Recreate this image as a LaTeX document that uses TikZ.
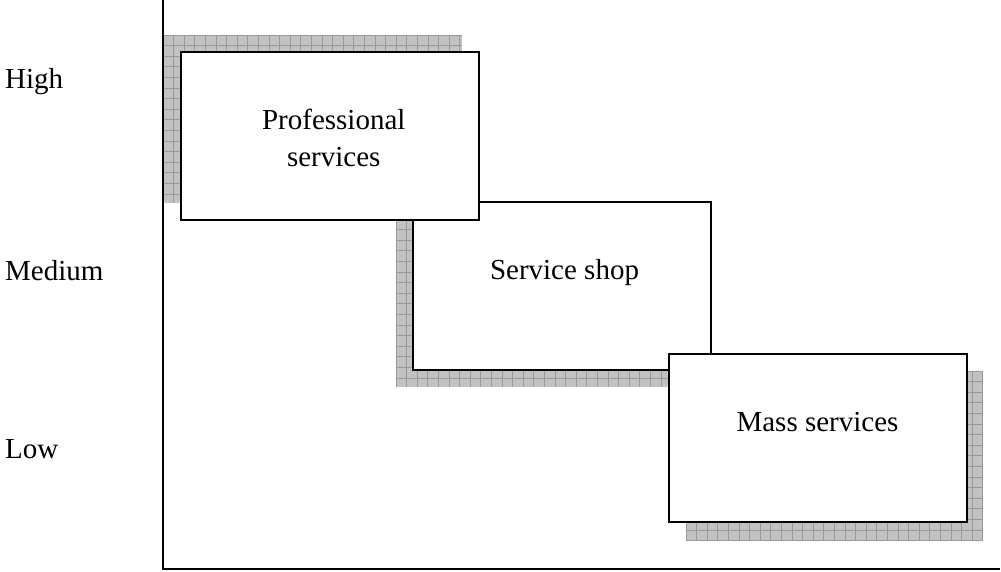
\documentclass[tikz,border=0pt]{standalone}
\usepackage{fontspec}
\setmainfont{Liberation Serif}
\usetikzlibrary{positioning}
\definecolor{shadegray}{rgb}{0.76,0.76,0.76}
\definecolor{shadeline}{rgb}{0.6,0.6,0.6}
\tikzset{
	typebox/.style={draw, line width=2pt, fill=white, minimum width=298pt, minimum height=168pt, inner sep=0pt},
	typetext/.style={font=\fontsize{29}{37}\selectfont, align=center, anchor=base, inner sep=0pt},
	levellabel/.style={font=\fontsize{29}{37}\selectfont, anchor=base west, inner sep=0pt},
	axisline/.style={line width=2pt}
}
% grey hatched shadow behind a box
\newcommand{\shadebox}[4]{%
	\begin{scope}
		\clip (#1,#2) rectangle (#3,#4);
		\fill[shadegray] (#1,#2) rectangle (#3,#4);
		\foreach \k in {0,...,30}{
			\draw [shadeline, line width=0.7pt] ({#1+\k*10.6},#2)--({#1+\k*10.6},#4);
			\draw [shadeline, line width=0.7pt] (#1,{#2+\k*10.6})--(#3,{#2+\k*10.6});
		}
	\end{scope}}

\begin{document}
\begin{tikzpicture}[x=1pt, y=-1pt]
		\useasboundingbox (0,0) rectangle (1001,571);
		\shadebox{163}{35}{462}{203}
		\shadebox{396}{219}{693}{387}
		\shadebox{686}{371}{983}{540}
		\node [typebox] (shop) at (561.5,286) {};
		\node [typebox] (prof) at (329.75,136) {};
		\node [typebox] (mass) at (817.5,438) {};
		\node [typetext] (proftext) at ([xshift=4pt, yshift=-115pt]prof.north) {Professional\\services};
		\node [typetext] (shoptext) at ([xshift=3pt, yshift=-78pt]shop.north) {Service shop};
		\node [typetext] (masstext) at ([yshift=-78pt]mass.north) {Mass services};
		\coordinate (top) at (163,0);
		\coordinate (origin) at (163,569);
		\coordinate (right) at (1000,569);
		\draw [axisline] (top)--(origin)--(right);
		\node [levellabel] (high) at (5,88) {High};
		\node [levellabel] (medium) at (5,280) {Medium};
		\node [levellabel] (low) at (5,458) {Low};
	\end{tikzpicture}
\end{document}
